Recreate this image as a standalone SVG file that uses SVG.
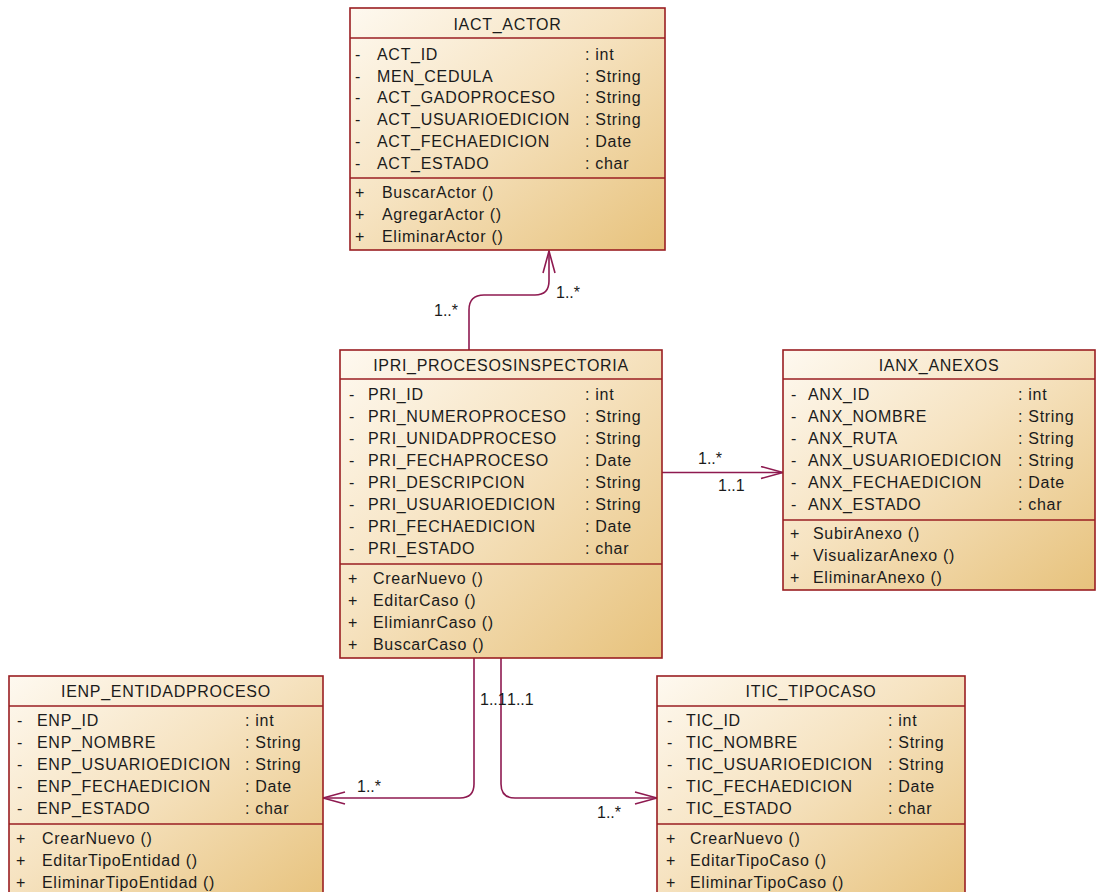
<svg xmlns="http://www.w3.org/2000/svg" width="1096" height="892" viewBox="0 0 1096 892">
  <defs>
    <linearGradient id="classFill" x1="0" y1="0" x2="1" y2="1">
      <stop offset="0" stop-color="#fef9f0"/>
      <stop offset="0.45" stop-color="#f6e3c1"/>
      <stop offset="1" stop-color="#e7c27c"/>
    </linearGradient>
    <marker id="openArrow" viewBox="0 0 24 14" refX="23" refY="7" markerWidth="24" markerHeight="14" markerUnits="userSpaceOnUse" orient="auto">
      <path d="M1,1 L23,7 L1,13" fill="none" stroke="#8e1a50" stroke-width="1.6"/>
    </marker>
    <style>
      .box { fill: url(#classFill); stroke: #9a1e22; stroke-width: 1.6; }
      .sep { stroke: #9a1e22; stroke-width: 1.6; }
      text { font-family: "Liberation Sans", Arial, sans-serif; font-size: 16px; fill: #1b1b1b; letter-spacing: 0.7px; }
      .title { text-anchor: middle; }
      .mult { letter-spacing: 0; }
      .conn { fill: none; stroke: #8e1a50; stroke-width: 1.6; }
    </style>
  </defs>

  <!-- associations -->
  <g id="connectors">
    <path class="conn" d="M469,350 V310 Q469,295 484,295 H535 Q549,295 549,281 V251" marker-end="url(#openArrow)"/>
    <path class="conn" d="M662,472.5 H783" marker-end="url(#openArrow)"/>
    <path class="conn" d="M474,658 V784 Q474,798 460,798 H323" marker-end="url(#openArrow)"/>
    <path class="conn" d="M501,658 V784 Q501,798 515,798 H657" marker-end="url(#openArrow)"/>
    <text class="mult" x="434" y="316">1..*</text>
    <text class="mult" x="556" y="298">1..*</text>
    <text class="mult" x="698" y="464">1..*</text>
    <text class="mult" x="718" y="491">1..1</text>
    <text class="mult" x="480" y="705">1..1</text>
    <text class="mult" x="507" y="705">1..1</text>
    <text class="mult" x="357" y="792">1..*</text>
    <text class="mult" x="597" y="818">1..*</text>
  </g>

  <g id="IACT_ACTOR">
    <rect class="box" x="350" y="8" width="315" height="242"/>
    <line class="sep" x1="350" y1="38" x2="665" y2="38"/>
    <line class="sep" x1="350" y1="178" x2="665" y2="178"/>
    <text class="title" x="507.5" y="30">IACT_ACTOR</text>
    <text x="355" y="60">-</text><text x="377" y="60">ACT_ID</text><text x="585" y="60">: int</text>
    <text x="355" y="82">-</text><text x="377" y="82">MEN_CEDULA</text><text x="585" y="82">: String</text>
    <text x="355" y="103">-</text><text x="377" y="103">ACT_GADOPROCESO</text><text x="585" y="103">: String</text>
    <text x="355" y="125">-</text><text x="377" y="125">ACT_USUARIOEDICION</text><text x="585" y="125">: String</text>
    <text x="355" y="147">-</text><text x="377" y="147">ACT_FECHAEDICION</text><text x="585" y="147">: Date</text>
    <text x="355" y="169">-</text><text x="377" y="169">ACT_ESTADO</text><text x="585" y="169">: char</text>
    <text x="355" y="198">+</text><text x="382" y="198">BuscarActor ()</text>
    <text x="355" y="220">+</text><text x="382" y="220">AgregarActor ()</text>
    <text x="355" y="242">+</text><text x="382" y="242">EliminarActor ()</text>
  </g>

  <g id="IPRI_PROCESOSINSPECTORIA">
    <rect class="box" x="340" y="350" width="322" height="308"/>
    <line class="sep" x1="340" y1="379" x2="662" y2="379"/>
    <line class="sep" x1="340" y1="564" x2="662" y2="564"/>
    <text class="title" x="501" y="371">IPRI_PROCESOSINSPECTORIA</text>
    <text x="349" y="400">-</text><text x="368" y="400">PRI_ID</text><text x="585" y="400">: int</text>
    <text x="349" y="422">-</text><text x="368" y="422">PRI_NUMEROPROCESO</text><text x="585" y="422">: String</text>
    <text x="349" y="444">-</text><text x="368" y="444">PRI_UNIDADPROCESO</text><text x="585" y="444">: String</text>
    <text x="349" y="466">-</text><text x="368" y="466">PRI_FECHAPROCESO</text><text x="585" y="466">: Date</text>
    <text x="349" y="488">-</text><text x="368" y="488">PRI_DESCRIPCION</text><text x="585" y="488">: String</text>
    <text x="349" y="510">-</text><text x="368" y="510">PRI_USUARIOEDICION</text><text x="585" y="510">: String</text>
    <text x="349" y="532">-</text><text x="368" y="532">PRI_FECHAEDICION</text><text x="585" y="532">: Date</text>
    <text x="349" y="554">-</text><text x="368" y="554">PRI_ESTADO</text><text x="585" y="554">: char</text>
    <text x="348" y="584">+</text><text x="373" y="584">CrearNuevo ()</text>
    <text x="348" y="606">+</text><text x="373" y="606">EditarCaso ()</text>
    <text x="348" y="628">+</text><text x="373" y="628">ElimianrCaso ()</text>
    <text x="348" y="650">+</text><text x="373" y="650">BuscarCaso ()</text>
  </g>

  <g id="IANX_ANEXOS">
    <rect class="box" x="783" y="350" width="312" height="240"/>
    <line class="sep" x1="783" y1="379" x2="1095" y2="379"/>
    <line class="sep" x1="783" y1="520" x2="1095" y2="520"/>
    <text class="title" x="939" y="371">IANX_ANEXOS</text>
    <text x="791" y="400">-</text><text x="808" y="400">ANX_ID</text><text x="1018" y="400">: int</text>
    <text x="791" y="422">-</text><text x="808" y="422">ANX_NOMBRE</text><text x="1018" y="422">: String</text>
    <text x="791" y="444">-</text><text x="808" y="444">ANX_RUTA</text><text x="1018" y="444">: String</text>
    <text x="791" y="466">-</text><text x="808" y="466">ANX_USUARIOEDICION</text><text x="1018" y="466">: String</text>
    <text x="791" y="488">-</text><text x="808" y="488">ANX_FECHAEDICION</text><text x="1018" y="488">: Date</text>
    <text x="791" y="510">-</text><text x="808" y="510">ANX_ESTADO</text><text x="1018" y="510">: char</text>
    <text x="790" y="539">+</text><text x="813" y="539">SubirAnexo ()</text>
    <text x="790" y="561">+</text><text x="813" y="561">VisualizarAnexo ()</text>
    <text x="790" y="583">+</text><text x="813" y="583">EliminarAnexo ()</text>
  </g>

  <g id="IENP_ENTIDADPROCESO">
    <rect class="box" x="9" y="676" width="314" height="230"/>
    <line class="sep" x1="9" y1="706" x2="323" y2="706"/>
    <line class="sep" x1="9" y1="824" x2="323" y2="824"/>
    <text class="title" x="166" y="697">IENP_ENTIDADPROCESO</text>
    <text x="17" y="726">-</text><text x="37" y="726">ENP_ID</text><text x="245" y="726">: int</text>
    <text x="17" y="748">-</text><text x="37" y="748">ENP_NOMBRE</text><text x="245" y="748">: String</text>
    <text x="17" y="770">-</text><text x="37" y="770">ENP_USUARIOEDICION</text><text x="245" y="770">: String</text>
    <text x="17" y="792">-</text><text x="37" y="792">ENP_FECHAEDICION</text><text x="245" y="792">: Date</text>
    <text x="17" y="814">-</text><text x="37" y="814">ENP_ESTADO</text><text x="245" y="814">: char</text>
    <text x="16" y="844">+</text><text x="42" y="844">CrearNuevo ()</text>
    <text x="16" y="866">+</text><text x="42" y="866">EditarTipoEntidad ()</text>
    <text x="16" y="888">+</text><text x="42" y="888">EliminarTipoEntidad ()</text>
  </g>

  <g id="ITIC_TIPOCASO">
    <rect class="box" x="657" y="676" width="308" height="230"/>
    <line class="sep" x1="657" y1="706" x2="965" y2="706"/>
    <line class="sep" x1="657" y1="824" x2="965" y2="824"/>
    <text class="title" x="811" y="697">ITIC_TIPOCASO</text>
    <text x="667" y="726">-</text><text x="686" y="726">TIC_ID</text><text x="888" y="726">: int</text>
    <text x="667" y="748">-</text><text x="686" y="748">TIC_NOMBRE</text><text x="888" y="748">: String</text>
    <text x="667" y="770">-</text><text x="686" y="770">TIC_USUARIOEDICION</text><text x="888" y="770">: String</text>
    <text x="667" y="792">-</text><text x="686" y="792">TIC_FECHAEDICION</text><text x="888" y="792">: Date</text>
    <text x="667" y="814">-</text><text x="686" y="814">TIC_ESTADO</text><text x="888" y="814">: char</text>
    <text x="666" y="844">+</text><text x="690" y="844">CrearNuevo ()</text>
    <text x="666" y="866">+</text><text x="690" y="866">EditarTipoCaso ()</text>
    <text x="666" y="888">+</text><text x="690" y="888">EliminarTipoCaso ()</text>
  </g>
</svg>
